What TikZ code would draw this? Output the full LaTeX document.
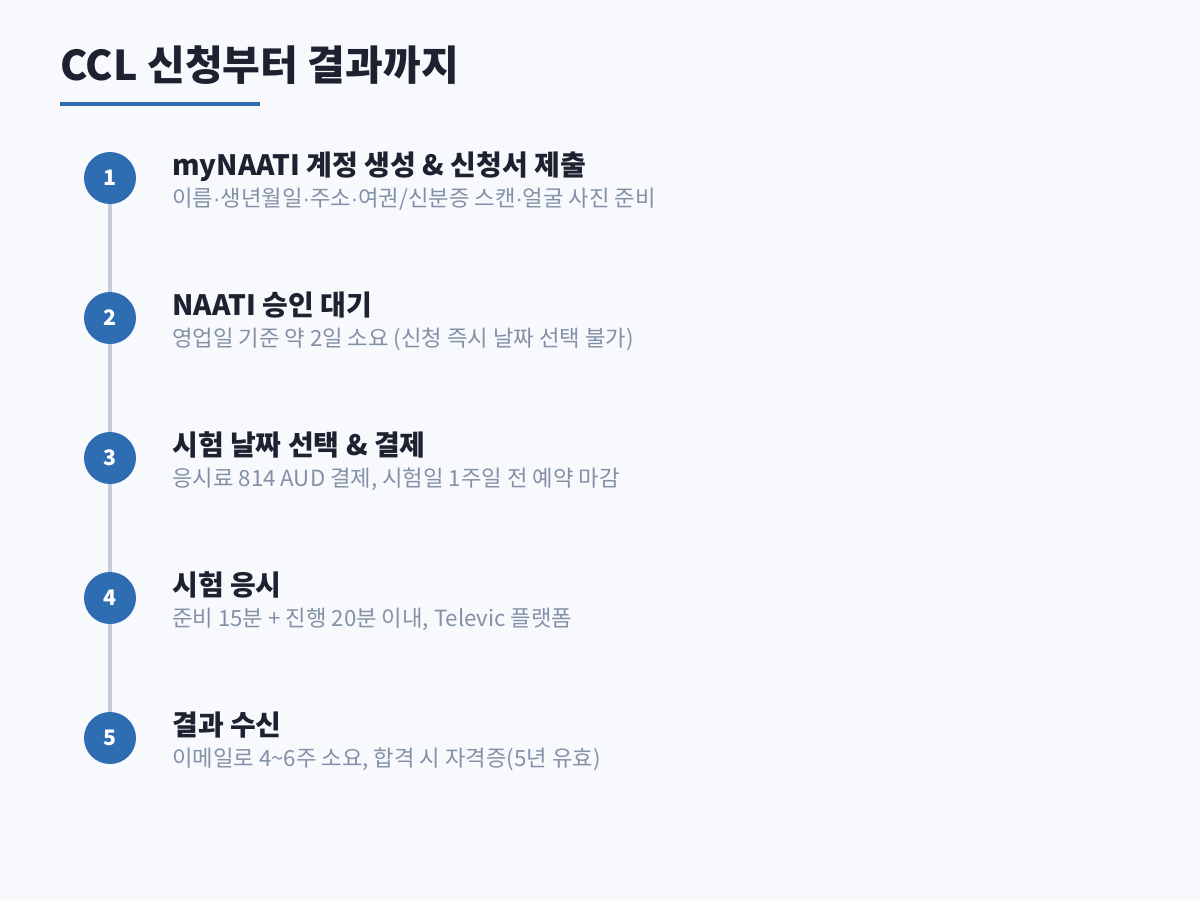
\documentclass[tikz,border=0pt]{standalone}
\usepackage{fontspec}
\setmainfont{Noto Sans CJK KR}
\newfontfamily\dotfont{Liberation Sans}
\newcommand{\mdot}{{\dotfont ·}}
\usetikzlibrary{positioning}

\definecolor{pagebg}{HTML}{F7F9FC}
\definecolor{stepblue}{HTML}{2F6DB2}
\definecolor{inkdark}{HTML}{1E2130}
\definecolor{inkgray}{HTML}{8391A7}
\definecolor{railgray}{HTML}{C5CCD7}

\tikzset{
  stepdot/.style={circle,fill=stepblue,minimum size=39pt,inner sep=0pt,
    text=white,font=\bfseries\fontsize{16}{16}\selectfont},
  stephead/.style={anchor=base west,inner sep=0pt,text=inkdark,
    font=\bfseries\fontsize{21}{22}\selectfont},
  stepnote/.style={anchor=base west,inner sep=0pt,text=inkgray,
    font=\fontsize{16.7}{17}\selectfont},
}

\begin{document}
\begin{tikzpicture}[x=0.75pt,y=-0.75pt]
 \fill[pagebg] (0,0) rectangle (1200,900);
 \useasboundingbox (0,0) rectangle (1200,900);

 % title
 \node (title) [anchor=base west,inner sep=0pt,text=inkdark,
   font=\bfseries\fontsize{30.8}{31}\selectfont] at (60,80) {CCL 신청부터 결과까지};
 \fill[stepblue] (60,102) rectangle (260,106);

 % rail behind the steps
 \coordinate (top) at (110,178);
 \coordinate (bot) at (110,738);
 \draw[railgray,line width=2.5pt] (top) -- (bot);

 \node (s1) [stepdot] at (110,178) {1};
 \node (h1) [stephead] at (172,175) {myNAATI 계정 생성 \& 신청서 제출};
 \node (d1) [stepnote] at (172,206) {이름\mdot 생년월일\mdot 주소\mdot 여권/신분증 스캔\mdot 얼굴 사진 준비};

 \node (s2) [stepdot] at (110,318) {2};
 \node (h2) [stephead] at (172,315) {NAATI 승인 대기};
 \node (d2) [stepnote] at (172,346) {영업일 기준 약 2일 소요 (신청 즉시 날짜 선택 불가)};

 \node (s3) [stepdot] at (110,458) {3};
 \node (h3) [stephead] at (172,455) {시험 날짜 선택 \& 결제};
 \node (d3) [stepnote] at (172,486) {응시료 814 AUD 결제, 시험일 1주일 전 예약 마감};

 \node (s4) [stepdot] at (110,598) {4};
 \node (h4) [stephead] at (172,595) {시험 응시};
 \node (d4) [stepnote] at (172,626) {준비 15분 + 진행 20분 이내, Televic 플랫폼};

 \node (s5) [stepdot] at (110,738) {5};
 \node (h5) [stephead] at (172,735) {결과 수신};
 \node (d5) [stepnote] at (172,766) {이메일로 4\textasciitilde 6주 소요, 합격 시 자격증(5년 유효)};
\end{tikzpicture}
\end{document}
